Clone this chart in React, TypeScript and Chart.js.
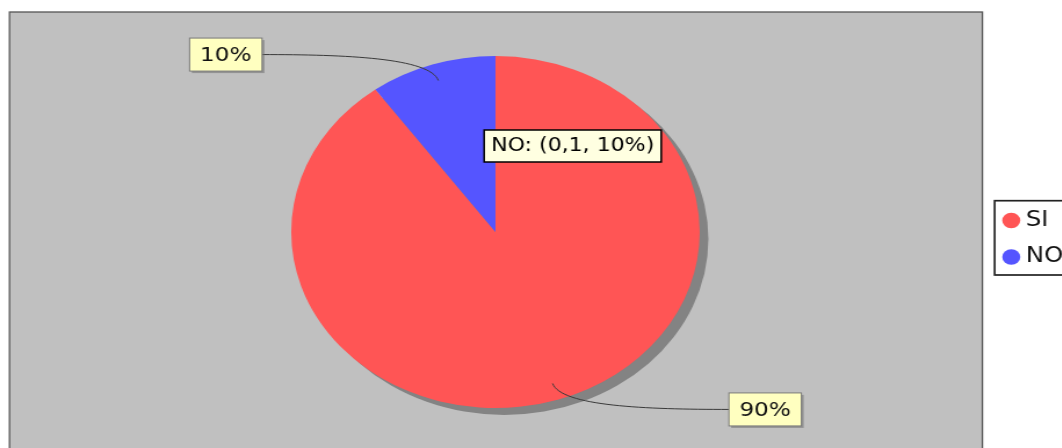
import React, { useEffect, useRef } from 'react';
import { Chart, registerables, Tooltip } from 'chart.js';

Chart.register(...registerables);

// ---- data ----
const categories = ['SI', 'NO'];
const values = [0.9, 0.1];
const sliceColors = ['#FF5555', '#5555FF'];
const hoveredIndex = 1;

// ---- layout / style ----
const FONT = '"DejaVu Sans", Verdana, sans-serif';
const STRETCH = 1.16; // the picture is stretched horizontally
const CW = 960;
const CH = 448;
const PLOT = { left: 8.2, top: 12, right: 846.6, bottom: 470 };
const HOVER = { x: 417.2, y: 130 };

(Tooltip.positioners as any).cursor = function (_items: any, pos: any) {
  return pos ? { x: pos.x, y: pos.y } : false;
};

const fmtValue = (v: number) => String(v).replace('.', ',');

const plotBackground = {
  id: 'plotBackground',
  beforeDraw(chart: any) {
    const { ctx, width, height } = chart;
    ctx.save();
    ctx.fillStyle = '#FFFFFF';
    ctx.fillRect(0, 0, width, height);
    ctx.fillStyle = '#C0C0C0';
    ctx.fillRect(PLOT.left, PLOT.top, PLOT.right - PLOT.left, PLOT.bottom - PLOT.top);
    ctx.strokeStyle = '#555555';
    ctx.lineWidth = 1.3;
    ctx.strokeRect(PLOT.left, PLOT.top, PLOT.right - PLOT.left, PLOT.bottom - PLOT.top);
    ctx.restore();
  },
};

const pieShadow = {
  id: 'pieShadow',
  beforeDatasetsDraw(chart: any) {
    const arc = chart.getDatasetMeta(0).data[0];
    if (!arc) return;
    const { x, y, outerRadius } = arc.getProps(['x', 'y', 'outerRadius'], true);
    const ctx = chart.ctx;
    ctx.save();
    ctx.fillStyle = '#838383';
    ctx.beginPath();
    ctx.arc(x + 7.5, y + 7, outerRadius, 0, Math.PI * 2);
    ctx.fill();
    ctx.restore();
  },
};

const sliceLabels = {
  id: 'sliceLabels',
  afterDatasetsDraw(chart: any) {
    const ctx = chart.ctx;
    const meta = chart.getDatasetMeta(0);
    const data = chart.data.datasets[0].data as number[];
    const total = data.reduce((a, b) => a + b, 0);
    ctx.save();
    ctx.font = `20px ${FONT}`;
    meta.data.forEach((el: any, i: number) => {
      const { x, y, startAngle, endAngle, outerRadius: r } = el.getProps(
        ['x', 'y', 'startAngle', 'endAngle', 'outerRadius'],
        true
      );
      const mid = (startAngle + endAngle) / 2;
      const c = Math.cos(mid);
      const s = Math.sin(mid);
      const ax = x + c * r * 0.905;
      const ay = y + s * r * 0.905;
      const left = c < 0;
      const edge = x + (left ? -1 : 1) * r * 1.143;
      const ly = y + s * r * 1.06;
      const text = Math.round((data[i] / total) * 100) + '%';
      const tw = ctx.measureText(text).width;
      const bw = tw + 18;
      const bh = 33;
      const bx = left ? edge - bw : edge;
      const by = ly - bh / 2;
      // connector
      ctx.strokeStyle = '#3a3a3a';
      ctx.lineWidth = 1;
      ctx.beginPath();
      ctx.moveTo(edge, ly);
      ctx.bezierCurveTo(edge + 0.47 * (ax - edge), ly, ax + c * 24, ay + s * 24, ax, ay);
      ctx.stroke();
      // box
      ctx.fillStyle = 'rgba(110,110,110,0.55)';
      ctx.fillRect(bx + 2, by + 2, bw, bh);
      ctx.fillStyle = '#FFFFC0';
      ctx.fillRect(bx, by, bw, bh);
      ctx.strokeStyle = '#7a7a7a';
      ctx.lineWidth = 1;
      ctx.strokeRect(bx, by, bw, bh);
      ctx.fillStyle = '#111111';
      ctx.textAlign = 'center';
      ctx.textBaseline = 'middle';
      ctx.fillText(text, bx + bw / 2, ly + 1);
    });
    ctx.restore();
  },
};

const legendBorder = {
  id: 'legendBorder',
  afterDraw(chart: any) {
    const legend = chart.legend;
    const hb = legend && legend.legendHitBoxes;
    if (!hb || !hb.length) return;
    const first = hb[0];
    const last = hb[hb.length - 1];
    const l = first.left - 12.3;
    const t = first.top - 9.3;
    const b = last.top + last.height + 7.5;
    const r = legend.right + 20;
    const ctx = chart.ctx;
    ctx.save();
    ctx.strokeStyle = '#222222';
    ctx.lineWidth = 1.7;
    ctx.strokeRect(l, t, r - l, b - t);
    ctx.restore();
  },
};

export default function App() {
  const ref = useRef<HTMLCanvasElement | null>(null);

  useEffect(() => {
    if (!ref.current) return;
    const total = values.reduce((a, b) => a + b, 0);
    const chart = new Chart(ref.current, {
      type: 'pie',
      data: {
        labels: categories,
        datasets: [
          {
            data: values,
            backgroundColor: sliceColors,
            borderWidth: 0,
            hoverOffset: 0,
            offset: 0,
          } as any,
        ],
      },
      options: {
        responsive: false,
        maintainAspectRatio: false,
        animation: false,
        devicePixelRatio: 1,
        events: [],
        layout: { padding: { left: 0, right: 33.8, top: 56, bottom: 40 } },
        plugins: {
          legend: {
            position: 'right',
            title: { display: true, text: '', font: { size: 13.5, lineHeight: 1 }, padding: 0 },
            labels: {
              usePointStyle: true,
              pointStyle: 'circle',
              boxWidth: 4,
              boxHeight: 11,
              padding: 15.5,
              color: '#111111',
              font: { family: FONT, size: 21 },
            },
          },
          tooltip: {
            enabled: true,
            position: 'cursor' as any,
            xAlign: 'left',
            yAlign: 'top',
            caretSize: 0,
            caretPadding: 0,
            cornerRadius: 0,
            backgroundColor: '#FFFFE1',
            borderColor: '#000000',
            borderWidth: 1.5,
            bodyColor: '#000000',
            bodyFont: { family: FONT, size: 19, lineHeight: 1.2 },
            padding: { left: 6, right: 6, top: 4.6, bottom: 4.6 },
            displayColors: false,
            callbacks: {
              title: () => '',
              label: (item: any) =>
                `${item.label}: (${fmtValue(item.raw)}, ${Math.round((item.raw / total) * 100)}%)`,
            },
          },
        },
      },
      plugins: [plotBackground, pieShadow, sliceLabels, legendBorder],
    });
    chart.tooltip?.setActiveElements([{ datasetIndex: 0, index: hoveredIndex }], HOVER);
    chart.update();
    return () => chart.destroy();
  }, []);

  return (
    <div
      style={{
        position: 'fixed',
        left: 0,
        top: 0,
        width: 1062,
        height: 448,
        overflow: 'hidden',
        background: '#FFFFFF',
      }}
    >
      <canvas
        ref={ref}
        width={CW}
        height={CH}
        style={{ width: `${CW * STRETCH}px`, height: `${CH}px`, display: 'block' }}
      />
    </div>
  );
}
